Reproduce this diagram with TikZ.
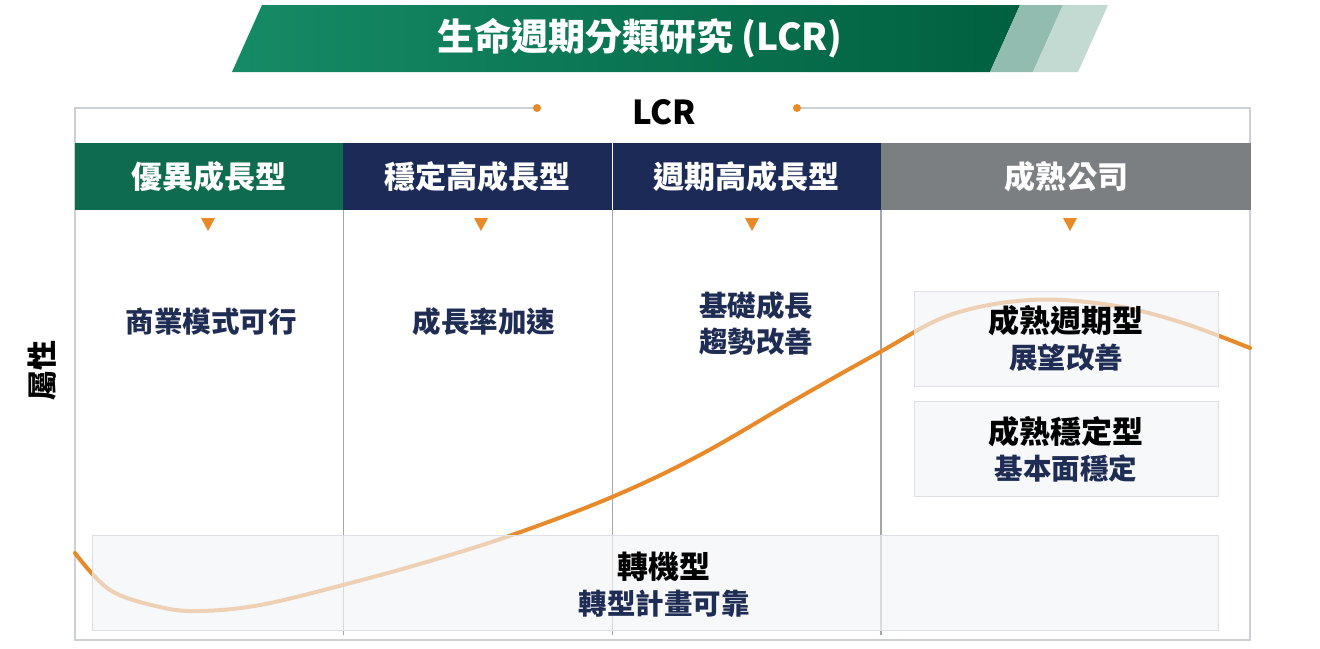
\documentclass[tikz,border=0pt]{standalone}
\usepackage{fontspec}
\setmainfont{Noto Sans CJK TC}
\usetikzlibrary{shapes.geometric, positioning}
\definecolor{lcrgreen}{HTML}{0F6B50}
\definecolor{lcrnavy}{HTML}{1B2A56}
\definecolor{lcrgray}{HTML}{7C7F82}
\definecolor{lcrorange}{HTML}{E8892A}
\definecolor{lcrtext}{HTML}{1F2D55}
\definecolor{lcrline}{HTML}{A4A7AA}
\definecolor{lcrframe}{HTML}{CDD0D3}
\definecolor{lcrbox}{HTML}{F2F4F7}
\definecolor{lcrboxline}{HTML}{DDE1E5}
\definecolor{bannerleft}{HTML}{168A66}
\definecolor{bannermid}{HTML}{0E9C73}
\definecolor{bannerright}{HTML}{00603F}
\tikzstyle{head} = [rectangle, minimum height=67pt, inner sep=0pt, text=white, font=\fontsize{31}{36}\selectfont\bfseries]
\tikzstyle{body} = [align=center, text=lcrtext, font=\fontsize{28.5}{36}\selectfont\bfseries]
\tikzstyle{group} = [rectangle, fill=lcrbox, fill opacity=0.68, text opacity=1, draw=lcrboxline, align=center, minimum width=304pt, minimum height=95pt, font=\fontsize{31}{36}\selectfont\bfseries]
\tikzstyle{dot} = [circle, fill=lcrorange, minimum size=8pt, inner sep=0pt]
\tikzstyle{frame} = [draw=lcrframe, line width=1.5pt]
\tikzstyle{divider} = [draw=lcrline, line width=1.2pt]
\tikzstyle{curve} = [draw=lcrorange, line width=4pt, line cap=round]

\begin{document}
\begin{tikzpicture}[x=1pt, y=-1pt]
	\useasboundingbox (0,0) rectangle (1320,648);
	% title banner
	\shade [left color=bannerleft, middle color=bannermid, right color=bannerright] (232,72) -- (262,5) -- (1020,5) -- (990,72) -- cycle;
	\fill [color=lcrgreen!45!white] (1020,5) -- (1063,5) -- (1033,72) -- (990,72) -- cycle;
	\fill [color=lcrgreen!25!white] (1063,5) -- (1108,5) -- (1078,72) -- (1033,72) -- cycle;
	\node (title) [text=white, font=\fontsize{37}{40}\selectfont\bfseries] at (640,38) {生命週期分類研究 (LCR)};
	% frame
	\node (dotl) [dot] at (537,108) {};
	\node (dotr) [dot] at (797,108) {};
	\node (lcr) [font=\fontsize{33}{36}\selectfont\bfseries] at (664,112) {LCR};
	\draw [frame] (dotl.west) -- (75,108) -- (75,640) -- (1250,640) -- (1250,108) -- (dotr.east);
	% header row
	\node (h1) [head, fill=lcrgreen, minimum width=268pt] at (209,176.5) {優異成長型};
	\node (h2) [head, fill=lcrnavy, minimum width=269pt, right=0pt of h1] {穩定高成長型};
	\node (h3) [head, fill=lcrnavy, minimum width=268pt, right=0pt of h2] {週期高成長型};
	\node (h4) [head, fill=lcrgray, minimum width=370pt, right=0pt of h3] {成熟公司};
	\foreach \x in {208,481,752,1070}
		\fill [lcrorange] (\x-7,218) -- (\x+7,218) -- (\x,231) -- cycle;
	\draw [divider] (h1.south east) -- ++(0,425);
	\draw [divider] (h2.south east) -- ++(0,425);
	\draw [divider] (h3.south east) -- ++(0,425);
	% life cycle curve
	\draw [curve] plot [smooth, tension=0.6] coordinates {(75,553) (110,590) (160,607) (200,611) (260,605) (343,585) (430,561) (512,535) (612,497) (700,455) (800,397) (880,352) (950,315) (1030,300) (1110,305) (1180,322) (1250,348)};
	% stages
	\node (s1) [body] at (211,322) {商業模式可行};
	\node (s2) [body] at (484,322) {成長率加速};
	\node (s3) [body] at (756,323) {基礎成長\\趨勢改善};
	\node (cyc) [group] at (1066,338.5) {成熟週期型\\\color{lcrtext}\fontsize{28.5}{36}\selectfont 展望改善};
	\node (stab) [group] at (1066,449) {成熟穩定型\\\color{lcrtext}\fontsize{28.5}{36}\selectfont 基本面穩定};
	\node (turnbox) [group, minimum width=1126pt] at (655,582.5) {};
	\node (turn) [align=center, font=\fontsize{31}{36}\selectfont\bfseries] at (664,585) {轉機型\\\color{lcrtext}\fontsize{28.5}{36}\selectfont 轉型計畫可靠};
	\node (attr) [rotate=90, font=\fontsize{30}{36}\selectfont\bfseries] at (42,370) {屬性};
\end{tikzpicture}
\end{document}
